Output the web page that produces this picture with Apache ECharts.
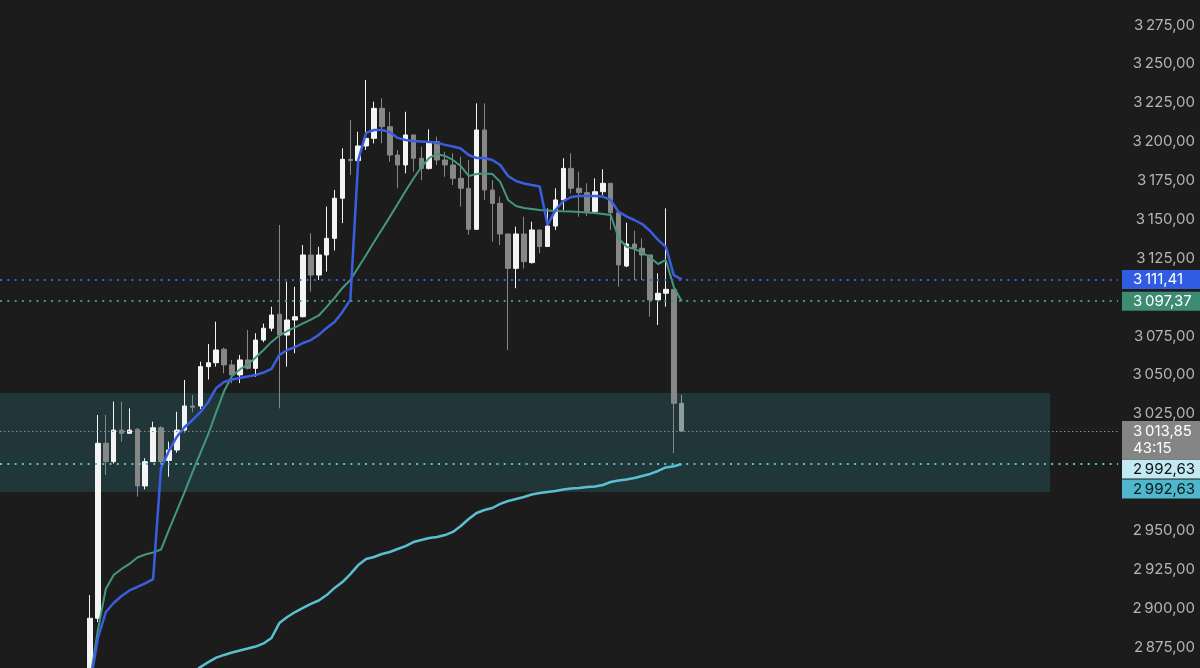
<!DOCTYPE html>
<html>
<head>
<meta charset="utf-8">
<script src="https://cdn.jsdelivr.net/npm/echarts@6/dist/echarts.min.js"></script>
<style>
  html, body { margin: 0; padding: 0; background: #1c1c1c; }
  #chart { width: 1200px; height: 668px; }
</style>
</head>
<body>
<div id="chart"></div>
<script>
// ---------- DATA ----------
const opens = [2852, 2893.5, 3006, 2994.2, 3014.5, 3012.4, 3015, 2978.6, 2994.2, 3016, 2995, 3001.7, 3014.5, 3030, 3030, 3055.3, 3057.8, 3066.5, 3056.4, 3050, 3059.6, 3054.2, 3072.4, 3080, 3089, 3075.6, 3085.3, 3087.4, 3127.1, 3114.2, 3127.1, 3137.8, 3163.6, 3188.6, 3187.8, 3197.2, 3202.1, 3221.4, 3209.6, 3191.4, 3185, 3204.3, 3189.3, 3182.8, 3200, 3188.2, 3185, 3176.4, 3170, 3143.6, 3207.5, 3168.9, 3160.3, 3140.6, 3118.5, 3140.6, 3122.2, 3143.2, 3132.6, 3145.7, 3162.5, 3182.8, 3170, 3167.2, 3155, 3167.8, 3173.2, 3154.3, 3120, 3134.2, 3131.4, 3127.1, 3098.2, 3102.5, 3105, 3031.7];
const closes = [2893.5, 3006, 2994.2, 3014.5, 3012.4, 3014.5, 2978.6, 2994.2, 3016, 2994.2, 3001.7, 3014.5, 3030, 3029.2, 3055.3, 3057.8, 3066, 3056.4, 3050, 3059.6, 3054.2, 3072.4, 3080, 3088.5, 3075.6, 3085.3, 3087.4, 3127.1, 3114.2, 3127.1, 3137.8, 3163.6, 3188.6, 3187.8, 3197.2, 3202.1, 3221.4, 3209.6, 3191.4, 3185, 3204.3, 3189.3, 3182.8, 3200, 3188.2, 3185, 3176.4, 3170, 3143.6, 3207.5, 3168.9, 3160.3, 3140.6, 3118.5, 3140.6, 3122.8, 3143.2, 3132.6, 3145.7, 3162.5, 3182.8, 3170, 3167.2, 3155, 3167.8, 3173.2, 3154.3, 3120.7, 3134.2, 3131.4, 3127.1, 3098.2, 3102.5, 3105, 3031.7, 3013.85];
const lows = [2848, 2891, 2985.6, 2993, 3007, 3012, 2971.7, 2976.4, 2994, 2993, 2984.5, 3000, 3013, 3026, 3028, 3047, 3055.3, 3051, 3044.7, 3044.7, 3053.5, 3048.8, 3071, 3078, 3028.5, 3055.3, 3063.9, 3087, 3103.5, 3111, 3116.4, 3130, 3147.6, 3178.5, 3174.2, 3194.6, 3198.9, 3198.9, 3187.1, 3170, 3179.6, 3180.7, 3175.3, 3182, 3185, 3177.4, 3172.1, 3158.2, 3140, 3143.6, 3162.5, 3135.7, 3133.5, 3066, 3105.7, 3118.5, 3121.6, 3128.2, 3132.6, 3143.2, 3156, 3166.8, 3151.7, 3152.2, 3154, 3165.7, 3143.2, 3106.7, 3119.3, 3111, 3111, 3087.4, 3082.1, 3093.8, 2999.6, 3013.85];
const highs = [2908.4, 3024.2, 3024.2, 3032.8, 3032.8, 3028.5, 3016, 2996.4, 3019.9, 3017, 3007, 3026.3, 3046.7, 3037, 3058.5, 3069.9, 3084.2, 3067.5, 3059.6, 3062.8, 3078.9, 3076.8, 3083, 3093.8, 3146.4, 3110, 3106.7, 3133.5, 3141, 3132.4, 3158.2, 3168.9, 3195.7, 3213.9, 3206.4, 3239.6, 3225.7, 3227.9, 3219.2, 3194.6, 3219.2, 3204.3, 3196.7, 3207.9, 3203.2, 3193.5, 3192.5, 3190.3, 3188.2, 3224.6, 3224.6, 3175.3, 3164.6, 3141, 3145.3, 3151.7, 3148.5, 3143.2, 3157.1, 3170, 3189.3, 3192.5, 3180.7, 3173.2, 3176.4, 3182.2, 3173.2, 3154.3, 3147.9, 3142.7, 3137.8, 3127.1, 3115.3, 3157.1, 3105, 3037.1];

const blueLine = [2850.6, 2880.8, 2897.5, 2903.3, 2907.8, 2911.4, 2913.6, 2915.9, 2918.7, 2990.1, 3001.1, 3010.1, 3016.5, 3021.0, 3026.1, 3032.6, 3041.6, 3045.4, 3047.0, 3048.0, 3049.0, 3049.9, 3051.5, 3053.8, 3062.8, 3066.0, 3067.9, 3070.5, 3072.4, 3075.7, 3080.2, 3084.0, 3090.5, 3098.2, 3188.2, 3205.6, 3207.5, 3207.5, 3206.2, 3202.4, 3201.1, 3200.4, 3200.1, 3199.8, 3199.3, 3197.9, 3196.9, 3195.6, 3191.4, 3189.5, 3189.5, 3188.2, 3185.0, 3177.9, 3174.7, 3173.1, 3172.1, 3171.2, 3146.4, 3156.0, 3161.8, 3164.4, 3165.1, 3165.1, 3165.1, 3164.7, 3162.5, 3154.8, 3151.9, 3149.6, 3147.0, 3142.5, 3136.8, 3132.3, 3114.2, 3111.41];
const greenLine = [2853.8, 2885.9, 2912.3, 2921.3, 2925.2, 2928.4, 2932.6, 2934.5, 2935.8, 2937.7, 2950.3, 2962.5, 2974.7, 2987.6, 2999.8, 3012.0, 3026.1, 3039.6, 3049.3, 3053.5, 3056.7, 3061.2, 3066.0, 3071.2, 3075.3, 3078.2, 3080.5, 3083.1, 3085.6, 3088.2, 3093.7, 3099.5, 3105.9, 3111.0, 3119.1, 3127.1, 3135.5, 3143.5, 3151.6, 3159.9, 3168.3, 3176.3, 3183.7, 3189.5, 3192.1, 3190.8, 3188.2, 3184.3, 3177.9, 3179.2, 3179.5, 3179.2, 3174.1, 3162.5, 3158.6, 3157.3, 3156.7, 3156.0, 3155.7, 3155.4, 3155.2, 3155.1, 3154.8, 3154.4, 3154.1, 3153.5, 3152.8, 3138.0, 3132.4, 3131.0, 3128.7, 3125.5, 3121.3, 3123.9, 3106.5, 3097.37];
const cyanLine = [null, null, null, null, null, null, null, null, null, null, null, null, 2853.8, 2858.3, 2862.1, 2865.3, 2868.2, 2869.9, 2871.5, 2872.8, 2874.0, 2875.3, 2877.3, 2880.8, 2890.4, 2894.3, 2897.5, 2900.1, 2902.7, 2904.9, 2908.4, 2913.0, 2916.8, 2921.9, 2927.7, 2931.6, 2932.9, 2934.8, 2936.1, 2938.0, 2939.9, 2942.5, 2943.8, 2945.1, 2945.7, 2947.0, 2949.0, 2952.8, 2957.3, 2961.2, 2963.1, 2964.4, 2967.0, 2968.9, 2970.2, 2971.5, 2973.1, 2974.1, 2974.7, 2975.3, 2976.3, 2976.9, 2977.3, 2977.9, 2978.2, 2979.2, 2981.1, 2982.1, 2982.7, 2983.7, 2985.0, 2986.3, 2988.2, 2990.5, 2991.2, 2992.63];

const yTickValues = [2875, 2900, 2925, 2950, 3025, 3050, 3075, 3125, 3150, 3175, 3200, 3225, 3250, 3275];
const bluePrice = 3111.41;
const greenPrice = 3097.37;
const lastPrice = 3013.85;
const countdown = '43:15';
const cyanPrice = 2992.63;
const zoneTop = 3038.3;
const zoneBottom = 2974.7;
const zoneEndIndex = 121.7;

// ---------- LAYOUT ----------
const X_MIN = -11.41, X_MAX = 130.31;
const Y_MIN = 2861.5, Y_MAX = 3291.08;
const FONT = 'Inter, Roboto, "DejaVu Sans", sans-serif';

function fmt(v) {
  const s = v.toFixed(2).replace('.', ',');
  const [ip, dp] = s.split(',');
  return ip.slice(0, ip.length - 3) + '\u2009' + ip.slice(-3) + ',' + dp;
}

const candleData = opens.map((o, i) => {
  const item = { value: [i, o, closes[i], lows[i], highs[i]] };
  if (i === opens.length - 1) {
    item.itemStyle = { color: '#8d9c9e', color0: '#8d9c9e', borderColor: '#8d9c9e', borderColor0: '#8d9c9e' };
  }
  return item;
});
const toPairs = arr => arr.map((v, i) => [i, v]).filter(p => p[1] !== null);

function boxLabel(text, bg, fg, offsetY, lh) {
  return {
    show: true,
    position: 'end',
    distance: 4,
    offset: [0, offsetY],
    formatter: text,
    backgroundColor: bg,
    padding: [2, 4, 2, 11],
    rich: { a: { width: 63, align: 'left', color: fg, fontSize: 15, lineHeight: lh || 15, fontFamily: FONT } }
  };
}

const chart = echarts.init(document.getElementById('chart'), null, { renderer: 'canvas' });
chart.setOption({
  backgroundColor: '#1c1c1c',
  animation: false,
  grid: { left: 0, right: 82, top: 0, bottom: 0, containLabel: false },
  xAxis: { type: 'value', min: X_MIN, max: X_MAX, show: false },
  yAxis: {
    type: 'value', position: 'right', min: Y_MIN, max: Y_MAX,
    axisLine: { show: false }, axisTick: { show: false }, splitLine: { show: false },
    axisLabel: {
      customValues: yTickValues,
      formatter: v => fmt(v),
      color: '#b4b4b4', fontSize: 15, fontFamily: FONT,
      align: 'right', margin: 77
    }
  },
  series: [
    {
      type: 'line', data: [], z: 0, silent: true,
      markArea: {
        silent: true,
        itemStyle: { color: '#213638' },
        data: [[{ xAxis: X_MIN, yAxis: zoneTop }, { xAxis: zoneEndIndex, yAxis: zoneBottom }]]
      },
      markLine: {
        silent: true, symbol: 'none',
        data: [
          { yAxis: cyanPrice, lineStyle: { color: 'rgba(0,0,0,0)', width: 0 }, label: boxLabel('{a|' + fmt(cyanPrice) + '}', '#4fb6cb', '#0c1a1d', 25) }
        ]
      }
    },
    {
      type: 'candlestick', z: 2, silent: true,
      encode: { x: 0, y: [1, 2, 3, 4] },
      barWidth: 5,
      itemStyle: { color: '#f4f4f4', color0: '#878787', borderColor: '#f4f4f4', borderColor0: '#878787', borderWidth: 1 },
      data: candleData,
      markLine: {
        silent: true, symbol: 'none',
        data: [
          {
            yAxis: lastPrice,
            lineStyle: { color: '#8a8a8a', width: 1, type: [1.5, 2.5] },
            label: boxLabel('{a|' + fmt(lastPrice) + '}\n{a|' + countdown + '}', '#858585', '#ffffff', 9, 17)
          }
        ]
      }
    },
    {
      type: 'line', z: 3, data: toPairs(greenLine), symbol: 'none', silent: true,
      lineStyle: { color: '#44987b', width: 2 },
      markLine: {
        silent: true, symbol: 'none',
        data: [{ yAxis: greenPrice, lineStyle: { color: '#44987b', width: 2, type: [2, 5.3] }, label: boxLabel('{a|' + fmt(greenPrice) + '}', '#3d8c72', '#ffffff', 0) }]
      }
    },
    {
      type: 'line', z: 4, data: toPairs(blueLine), symbol: 'none', silent: true,
      lineStyle: { color: '#3b5ee0', width: 2.5 },
      markLine: {
        silent: true, symbol: 'none',
        data: [{ yAxis: bluePrice, lineStyle: { color: '#3b5ee0', width: 2, type: [2, 5.3] }, label: boxLabel('{a|' + fmt(bluePrice) + '}', '#2f5ce2', '#ffffff', 0) }]
      }
    },
    {
      type: 'line', z: 4, data: toPairs(cyanLine), symbol: 'none', silent: true,
      lineStyle: { color: '#5bbfd2', width: 2.5 },
      markLine: {
        silent: true, symbol: 'none',
        data: [
          { yAxis: cyanPrice, lineStyle: { color: '#5bbfd2', width: 2, type: [2, 5.3] }, label: boxLabel('{a|' + fmt(cyanPrice) + '}', '#c3e9f1', '#111111', 5) }
        ]
      }
    }
  ]
});
</script>
</body>
</html>
